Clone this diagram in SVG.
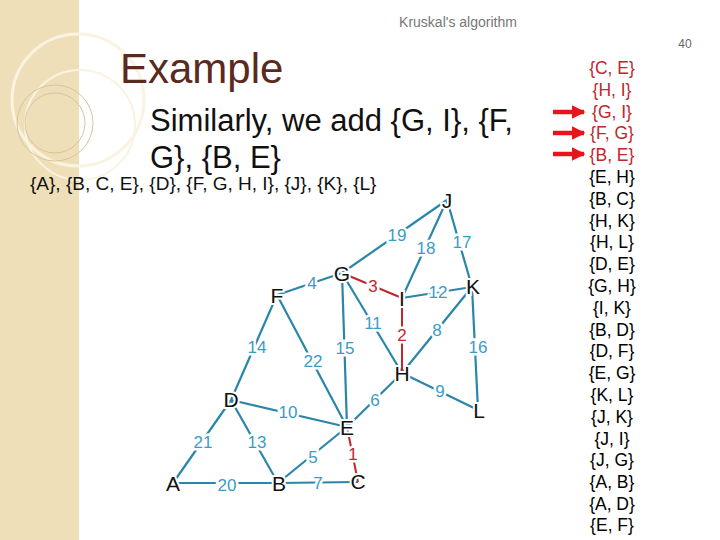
<svg xmlns="http://www.w3.org/2000/svg" width="720" height="540" viewBox="0 0 720 540">
<style>
.e{stroke:#2a86a8;stroke-width:2.2;fill:none}
.r{stroke:#c0272d;stroke-width:2;fill:none}
.w{font-family:"Liberation Sans",Arial,sans-serif;font-size:17px;fill:#3a9cc6;text-anchor:middle;dominant-baseline:central;stroke:#fff;stroke-width:5;paint-order:stroke}
.wr{fill:#c0272d}
.n{font-family:"Liberation Sans",Arial,sans-serif;font-size:21px;fill:#111;text-anchor:middle;dominant-baseline:central;stroke:#fff;stroke-width:4;paint-order:stroke}
.l{font-family:"Liberation Sans",Arial,sans-serif;font-size:17.5px;text-anchor:middle}
</style>
<defs><marker id="ah" viewBox="0 0 10 10" refX="9" refY="5" markerWidth="3" markerHeight="3" orient="auto"><path d="M0,0L10,5L0,10z" fill="#e8141c"/></marker></defs>
<rect width="720" height="540" fill="#fff"/>
<g id="bg">
<rect x="0" y="0" width="79" height="540" fill="#efdfb9"/>
<circle cx="78" cy="100" r="66" fill="none" stroke="#faf3e2" stroke-width="3"/>
<circle cx="80" cy="125" r="55" fill="none" stroke="#faf3e2" stroke-width="2"/>
<circle cx="55" cy="123" r="38" fill="none" stroke="#d9c49a" stroke-width="1"/>
<circle cx="55" cy="123" r="30" fill="none" stroke="#d9c49a" stroke-width="1"/>
</g>
<text x="458" y="27" font-family="Liberation Sans,Arial,sans-serif" font-size="14" fill="#777" text-anchor="middle">Kruskal's algorithm</text>
<text x="685" y="48" font-family="Liberation Sans,Arial,sans-serif" font-size="12" fill="#666" text-anchor="middle">40</text>
<text x="120" y="83" font-family="Liberation Sans,Arial,sans-serif" font-size="42" fill="#5a2a1e">Example</text>
<text x="150" y="131" font-family="Liberation Sans,Arial,sans-serif" font-size="31" fill="#111">Similarly, we add {G, I}, {F,</text>
<text x="150" y="168" font-family="Liberation Sans,Arial,sans-serif" font-size="31" fill="#111">G}, {B, E}</text>
<text x="30" y="190" font-family="Liberation Sans,Arial,sans-serif" font-size="19" fill="#111">{A}, {B, C, E}, {D}, {F, G, H, I}, {J}, {K}, {L}</text>
<g id="connectors">
<line class="e" x1="447" y1="200" x2="342" y2="273"/>
<line class="e" x1="447" y1="200" x2="402" y2="298"/>
<line class="e" x1="447" y1="200" x2="472" y2="287"/>
<line class="e" x1="342" y1="273" x2="277" y2="295"/>
<line class="r" x1="342" y1="273" x2="402" y2="298"/>
<line class="e" x1="402" y1="298" x2="472" y2="287"/>
<line class="e" x1="342" y1="273" x2="402" y2="373"/>
<line class="r" x1="402" y1="298" x2="402" y2="373"/>
<line class="e" x1="472" y1="287" x2="402" y2="373"/>
<line class="e" x1="277" y1="295" x2="231" y2="400"/>
<line class="e" x1="277" y1="295" x2="347" y2="427"/>
<line class="e" x1="342" y1="273" x2="347" y2="427"/>
<line class="e" x1="472" y1="287" x2="478" y2="410"/>
<line class="e" x1="402" y1="373" x2="478" y2="410"/>
<line class="e" x1="231" y1="400" x2="347" y2="427"/>
<line class="e" x1="402" y1="373" x2="347" y2="427"/>
<line class="e" x1="231" y1="400" x2="173" y2="483"/>
<line class="e" x1="231" y1="400" x2="278" y2="483"/>
<line class="e" x1="278" y1="483" x2="347" y2="427"/>
<line class="r" x1="347" y1="427" x2="358" y2="482"/>
<line class="e" x1="278" y1="483" x2="358" y2="482"/>
<line class="e" x1="173" y1="483" x2="278" y2="483"/>
<line x1="553" y1="112" x2="584" y2="112" stroke="#e8141c" stroke-width="4.5" marker-end="url(#ah)"/>
<line x1="553" y1="133" x2="584" y2="133" stroke="#e8141c" stroke-width="4.5" marker-end="url(#ah)"/>
<line x1="553" y1="154" x2="584" y2="154" stroke="#e8141c" stroke-width="4.5" marker-end="url(#ah)"/>
</g>
<g id="weights">
<text class="w" x="397" y="235">19</text><text class="w" x="426" y="248">18</text><text class="w" x="462" y="242">17</text>
<text class="w" x="312" y="283">4</text><text class="w wr" x="373" y="286">3</text><text class="w" x="438" y="292">12</text>
<text class="w" x="373" y="323">11</text><text class="w wr" x="402" y="335">2</text><text class="w" x="437" y="330">8</text>
<text class="w" x="257" y="347">14</text><text class="w" x="313" y="361">22</text><text class="w" x="345" y="348">15</text>
<text class="w" x="478" y="347">16</text><text class="w" x="440" y="391">9</text><text class="w" x="288" y="412">10</text>
<text class="w" x="375" y="400">6</text><text class="w" x="203" y="442">21</text><text class="w" x="257" y="442">13</text>
<text class="w" x="313" y="457">5</text><text class="w wr" x="353" y="454">1</text><text class="w" x="318" y="483">7</text>
<text class="w" x="227" y="485">20</text>
</g>
<g id="nJ"><text class="n" x="447" y="200">J</text></g>
<g id="nG"><text class="n" x="342" y="273">G</text></g>
<g id="nF"><text class="n" x="277" y="295">F</text></g>
<g id="nI"><text class="n" x="402" y="298">I</text></g>
<g id="nK"><text class="n" x="473" y="286">K</text></g>
<g id="nH"><text class="n" x="402" y="373">H</text></g>
<g id="nD"><text class="n" x="231" y="399">D</text></g>
<g id="nE"><text class="n" x="347" y="427">E</text></g>
<g id="nL"><text class="n" x="479" y="410">L</text></g>
<g id="nA"><text class="n" x="173" y="483">A</text></g>
<g id="nB"><text class="n" x="279" y="483">B</text></g>
<g id="nC"><text class="n" x="358" y="481">C</text></g>
<g id="list">
<text class="l" x="612" y="74" fill="#c0272d">{C, E}</text>
<text class="l" x="612" y="96" fill="#c0272d">{H, I}</text>
<text class="l" x="612" y="118" fill="#c0272d">{G, I}</text>
<text class="l" x="612" y="139" fill="#c0272d">{F, G}</text>
<text class="l" x="612" y="161" fill="#c0272d">{B, E}</text>
<text class="l" x="612" y="183">{E, H}</text>
<text class="l" x="612" y="205">{B, C}</text>
<text class="l" x="612" y="227">{H, K}</text>
<text class="l" x="612" y="248">{H, L}</text>
<text class="l" x="612" y="270">{D, E}</text>
<text class="l" x="612" y="292">{G, H}</text>
<text class="l" x="612" y="314">{I, K}</text>
<text class="l" x="612" y="336">{B, D}</text>
<text class="l" x="612" y="357">{D, F}</text>
<text class="l" x="612" y="379">{E, G}</text>
<text class="l" x="612" y="401">{K, L}</text>
<text class="l" x="612" y="423">{J, K}</text>
<text class="l" x="612" y="445">{J, I}</text>
<text class="l" x="612" y="466">{J, G}</text>
<text class="l" x="612" y="488">{A, B}</text>
<text class="l" x="612" y="510">{A, D}</text>
<text class="l" x="612" y="531">{E, F}</text>
</g>
</svg>
